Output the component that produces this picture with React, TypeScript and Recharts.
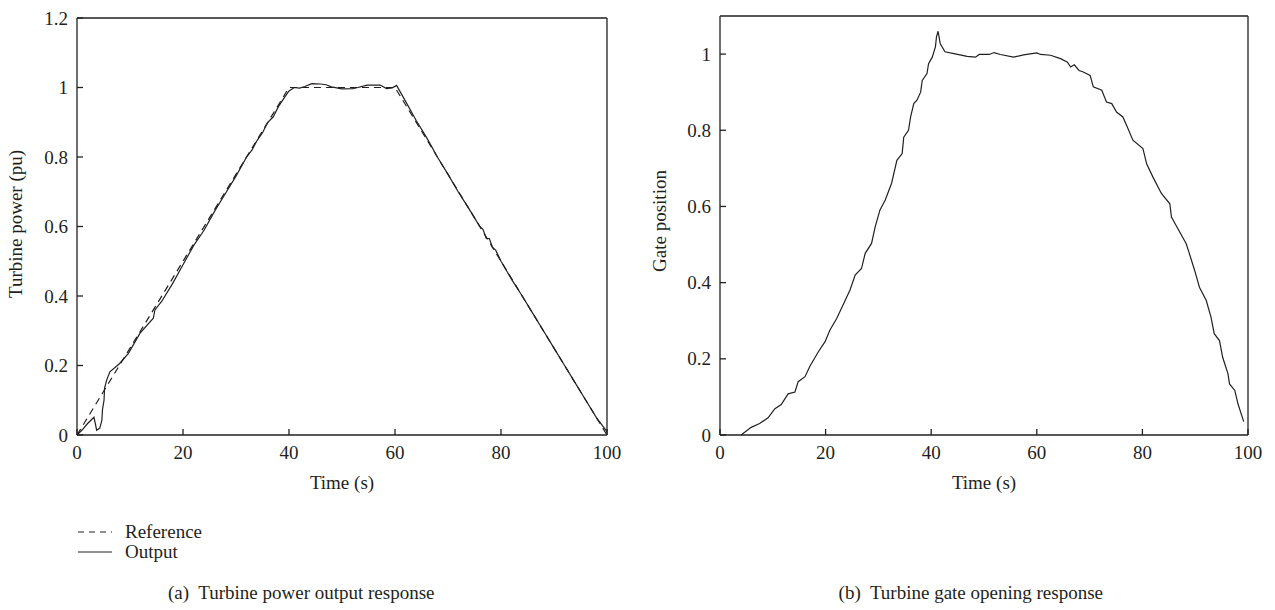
import { Line, LineChart, XAxis, YAxis } from "recharts";

// (a) turbine power: reference ramp and measured output
const refTime = [0, 40, 60, 100];
const refPower = [0, 1, 1, 0];

const outTime = [
  0, 1, 2, 3.2, 3.5, 3.7, 4.3, 4.7, 4.8, 5.1, 5.2, 5.6, 6.2, 8, 9.7, 11.9, 14.4, 14.7, 16, 18, 20, 22, 24, 26, 28, 30,
  32, 33, 34, 35, 36, 37, 38, 39, 40, 41, 42, 43, 44.3, 46, 47, 48, 50, 52, 53, 54.7, 57.2, 58.4, 59.5, 60.3, 62, 64,
  66, 68, 70, 72, 74, 76, 76.6, 77.2, 77.8, 78.4, 79, 80, 82, 84, 86, 88, 90, 92, 94, 96, 98, 99, 100,
];
const outPower = [
  0, 0.015, 0.033, 0.051, 0.03, 0.014, 0.02, 0.043, 0.072, 0.1, 0.135, 0.158, 0.182, 0.205, 0.235, 0.293, 0.336, 0.36,
  0.385, 0.435, 0.49, 0.545, 0.59, 0.645, 0.695, 0.745, 0.8, 0.82, 0.848, 0.87, 0.9, 0.915, 0.945, 0.968, 0.99, 1.0,
  0.998, 1.003, 1.011, 1.01, 1.008, 1.002, 0.996, 0.997, 1.0, 1.007, 1.007, 0.997, 0.999, 1.006, 0.96, 0.905, 0.855,
  0.8, 0.75, 0.698, 0.65, 0.6, 0.592, 0.566, 0.565, 0.54, 0.532, 0.5, 0.448, 0.4, 0.35, 0.3, 0.25, 0.2, 0.15, 0.1,
  0.05, 0.03, 0.01,
];

// (b) gate opening
const gateTime = [
  4, 5.9, 7.5, 9.1, 10.4, 11.6, 12.9, 14.2, 14.8, 16.1, 17, 18.6, 19.9, 20.8, 22.1, 23.3, 24.6, 25.6, 26.8, 27.5, 28.7,
  29.4, 30.3, 31.3, 32.5, 33.5, 34.5, 34.8, 35.7, 36.1, 36.7, 37.3, 38, 38.3, 39.2, 39.5, 40.2, 40.8, 41, 41.3, 41.7,
  42.6, 44.3, 46.8, 48.4, 49.1, 51, 51.9, 53.1, 55.6, 57.5, 60, 60.7, 62.6, 64.5, 65.8, 66.4, 67.1, 68, 68.8, 70.1,
  70.7, 72.3, 73.2, 74.2, 75.1, 76.3, 77, 78.2, 80.1, 80.8, 82, 83.6, 85.2, 85.5, 86.7, 88.3, 88.9, 89.9, 90.8, 92.1,
  93, 93.6, 94.6, 95.2, 96.2, 96.5, 97.5, 98.1, 99, 99.2,
];
const gatePos = [
  0, 0.02, 0.03, 0.045, 0.069, 0.08, 0.108, 0.113, 0.14, 0.153, 0.18, 0.218, 0.245, 0.275, 0.306, 0.341, 0.38, 0.42,
  0.437, 0.477, 0.503, 0.547, 0.591, 0.617, 0.661, 0.721, 0.739, 0.782, 0.8, 0.835, 0.87, 0.879, 0.9, 0.931, 0.949,
  0.975, 0.992, 1.019, 1.045, 1.06, 1.028, 1.006, 1.001, 0.994, 0.992, 0.999, 0.999, 1.004, 0.999, 0.992, 0.998, 1.003,
  0.999, 0.997, 0.988, 0.979, 0.966, 0.972, 0.957, 0.953, 0.944, 0.914, 0.905, 0.874, 0.87, 0.848, 0.835, 0.813,
  0.774, 0.752, 0.712, 0.677, 0.634, 0.607, 0.572, 0.542, 0.502, 0.476, 0.432, 0.388, 0.353, 0.309, 0.266, 0.248,
  0.204, 0.161, 0.134, 0.117, 0.082, 0.043, 0.035,
];

const timeTicks = [0, 20, 40, 60, 80, 100];
const powerTicks = [0, 0.2, 0.4, 0.6, 0.8, 1, 1.2];
const gateTicks = [0, 0.2, 0.4, 0.6, 0.8, 1];

const toRows = (t: number[], v: number[]) => t.map((x, i) => ({ t: x, v: v[i] }));

const FONT = "'Liberation Serif', 'Times New Roman', serif";
const INK = "#231f20";
const TICK = 6;

// axes are mirrored so tick marks point into the plot; labels are pushed back outside
const BottomTick = ({ x, y, payload }: any) => (
  <text x={x} y={y + TICK + 24} textAnchor="middle" fill={INK} fontSize={19} fontFamily={FONT}>
    {payload.value}
  </text>
);
const LeftTick = ({ x, y, payload }: any) => (
  <text x={x - TICK - 9} y={y + 6.5} textAnchor="end" fill={INK} fontSize={19} fontFamily={FONT}>
    {payload.value}
  </text>
);

function frame(yDomain: number[], yTicks: number[]) {
  const common = { stroke: INK, strokeWidth: 1.3, tickSize: TICK, tickMargin: 0, mirror: true };
  return [
    <XAxis key="xb" xAxisId="b" dataKey="t" type="number" domain={[0, 100]} ticks={timeTicks} height={10} tick={<BottomTick />} {...common} />,
    <XAxis key="xt" xAxisId="t" orientation="top" dataKey="t" type="number" domain={[0, 100]} ticks={timeTicks} height={10} tick={false} {...common} />,
    <YAxis key="yl" yAxisId="l" type="number" domain={yDomain} ticks={yTicks} width={10} tick={<LeftTick />} {...common} />,
    <YAxis key="yr" yAxisId="r" orientation="right" type="number" domain={yDomain} ticks={yTicks} width={10} tick={false} {...common} />,
  ];
}

export default function App() {
  return (
    <div style={{ position: "absolute", left: 0, top: 0, width: 1275, height: 610, background: "#fff" }}>
      <div style={{ position: "absolute", left: 0, top: 0 }}>
        <LineChart width={635} height={480} margin={{ top: 18, right: 28, bottom: 45, left: 77 }}>
          {frame([0, 1.2], powerTicks)}
          <Line xAxisId="b" yAxisId="l" data={toRows(refTime, refPower)} dataKey="v" type="linear" stroke={INK} strokeWidth={1.2} strokeDasharray="7 5" dot={false} isAnimationActive={false} />
          <Line xAxisId="b" yAxisId="l" data={toRows(outTime, outPower)} dataKey="v" type="linear" stroke={INK} strokeWidth={1.2} dot={false} isAnimationActive={false} />
          <Line xAxisId="t" yAxisId="r" data={toRows(refTime, refPower)} dataKey="v" stroke="none" dot={false} activeDot={false} isAnimationActive={false} />
        </LineChart>
      </div>

      <div style={{ position: "absolute", left: 640, top: 0 }}>
        <LineChart width={635} height={480} margin={{ top: 16, right: 27, bottom: 45, left: 80 }}>
          {frame([0, 1.1], gateTicks)}
          <Line xAxisId="b" yAxisId="l" data={toRows(gateTime, gatePos)} dataKey="v" type="linear" stroke={INK} strokeWidth={1.2} dot={false} isAnimationActive={false} />
          <Line xAxisId="t" yAxisId="r" data={toRows(gateTime, gatePos)} dataKey="v" stroke="none" dot={false} activeDot={false} isAnimationActive={false} />
        </LineChart>
      </div>

      <svg
        width={1275}
        height={610}
        style={{ position: "absolute", left: 0, top: 0, pointerEvents: "none" }}
        fontFamily={FONT}
        fill={INK}
        fontSize={19}
      >
        <text x={342} y={489} textAnchor="middle">Time (s)</text>
        <text x={984} y={489} textAnchor="middle">Time (s)</text>
        <text transform="translate(22,224) rotate(-90)" textAnchor="middle">Turbine power (pu)</text>
        <text transform="translate(666,221) rotate(-90)" textAnchor="middle">Gate position</text>

        <line x1={78} x2={112} y1={532} y2={532} stroke={INK} strokeWidth={1.2} strokeDasharray="6 5" />
        <text x={125} y={538}>Reference</text>
        <line x1={78} x2={112} y1={552} y2={552} stroke={INK} strokeWidth={1.2} />
        <text x={125} y={558}>Output</text>

        <text x={168} y={599} xmlSpace="preserve">(a)  Turbine power output response</text>
        <text x={1103} y={599} textAnchor="end" xmlSpace="preserve">(b)  Turbine gate opening response</text>
      </svg>
    </div>
  );
}
